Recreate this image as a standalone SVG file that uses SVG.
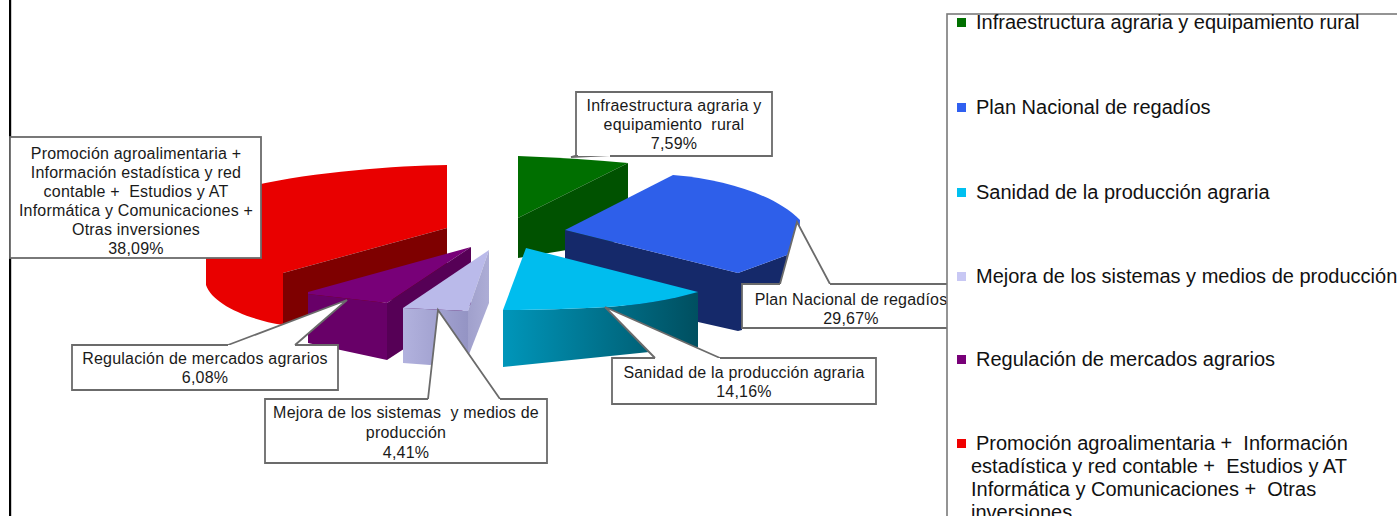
<svg xmlns="http://www.w3.org/2000/svg" width="1397" height="516" viewBox="0 0 1397 516">
<defs>
<linearGradient id="cyanFront" x1="0" y1="0" x2="1" y2="0">
<stop offset="0" stop-color="#0096ba"/>
<stop offset="1" stop-color="#004f60"/>
</linearGradient>
<linearGradient id="lavFront" x1="0" y1="0" x2="1" y2="0">
<stop offset="0" stop-color="#b2b2de"/>
<stop offset="1" stop-color="#9494c4"/>
</linearGradient>
<linearGradient id="lavSide" x1="0" y1="0" x2="1" y2="0">
<stop offset="0" stop-color="#a0a0cc"/>
<stop offset="1" stop-color="#adadd6"/>
</linearGradient>
</defs>
<style>
.lbl{font-family:"Liberation Sans",Arial,sans-serif;font-size:16px;letter-spacing:0.2px;fill:#1a1a1a;text-anchor:middle;white-space:pre}
.leg{font-family:"Liberation Sans",Arial,sans-serif;font-size:20px;fill:#111;white-space:pre}
.box{fill:#fff;stroke:#6b6b6b;stroke-width:1.8}
.ptr{fill:#fff;stroke:#6b6b6b;stroke-width:1.8;stroke-linejoin:miter}
</style>
<rect x="0" y="0" width="1397" height="516" fill="#fff"/>
<rect x="9" y="0" width="2.2" height="516" fill="#000"/>

<g id="slices">
<g id="slice-promocion">
<path d="M447,165 C380,166 262,176 206,200 L206,285 C212,303 245,319 283,325 L283,273 L447,228 Z" fill="#e90000"/>
<path d="M447,228 L283,273 L283,325 L308,323 L447,285 Z" fill="#7e0000"/>
</g>
<g id="slice-infraestructura">
<path d="M518,156 Q575,158 628,163 L518,218 Z" fill="#006f00"/>
<path d="M628,163 L628,240 L518,258 L518,218 Z" fill="#005200"/>
</g>
<g id="slice-plan">
<path d="M565,230 L738,273 L787,255 L785,284 L742,284 L742,330 L738,331 L565,292 Z" fill="#15296a"/>
<path d="M565,230 L673,175 C730,180 776,196 800,220 C800,234 795,248 787,255 L738,273 Z" fill="#2e5fea"/>
</g>
<g id="slice-regulacion">
<path d="M308,292 L471,247 L387,303 L308,294 Z" fill="#780078"/>
<path d="M308,294 L387,303 L387,360 L308,343 Z" fill="#680068"/>
<path d="M387,303 L471,247 L471,305 L387,360 Z" fill="#560056"/>
</g>
<g id="slice-mejora">
<path d="M403,308 L489,250 L468,311 Z" fill="#babaea"/>
<path d="M403,308 L468,311 L468,357 L430,365 L403,363 Z" fill="url(#lavFront)"/>
<path d="M468,311 L489,250 L489,303 L468,357 Z" fill="url(#lavSide)"/>
</g>
<g id="slice-sanidad">
<path d="M503,310 C530,310 570,309 607,307 C640,305 670,300 698,292 L698,347 L503,367 Z" fill="url(#cyanFront)"/>
<path d="M526,248 L698,292 C670,300 640,305 607,307 C570,309 530,310 503,310 Z" fill="#00bdee"/>
</g>
</g>

<g id="connectors">
<path class="ptr" d="M228,345 L347,300 L295,345"/>
<path class="ptr" d="M428,399 L438,310 L500,399"/>
<path class="ptr" d="M655,358 L605,307 L720,358"/>
<path class="ptr" d="M780,284 L797,222 L830,284"/>
<path class="ptr" d="M578,155 L571,157 L610,155"/>
</g>

<g id="label-promocion">
<rect class="box" x="10" y="137" width="251" height="121"/>
<text class="lbl" x="136" y="159">Promoción agroalimentaria +</text>
<text class="lbl" x="136" y="178">Información estadística y red</text>
<text class="lbl" x="136" y="197">contable +  Estudios y AT</text>
<text class="lbl" x="136" y="216">Informática y Comunicaciones +</text>
<text class="lbl" x="136" y="235">Otras inversiones</text>
<text class="lbl" x="136" y="254">38,09%</text>
</g>
<g id="label-infraestructura">
<path class="box" d="M610,156 L772,156 L772,92 L576,92 L576,156 L578,156"/>
<text class="lbl" x="674" y="111">Infraestructura agraria y</text>
<text class="lbl" x="674" y="130">equipamiento  rural</text>
<text class="lbl" x="674" y="149">7,59%</text>
</g>
<g id="label-plan">
<path class="box" d="M830,284 L960,284 L960,328 L742,328 L742,284 L780,284"/>
<text class="lbl" x="851" y="305">Plan Nacional de regadíos</text>
<text class="lbl" x="851" y="324">29,67%</text>
</g>
<g id="label-sanidad">
<path class="box" d="M720,358 L876,358 L876,404 L612,404 L612,358 L655,358"/>
<text class="lbl" x="744" y="378">Sanidad de la producción agraria</text>
<text class="lbl" x="744" y="397">14,16%</text>
</g>
<g id="label-regulacion">
<path class="box" d="M295,345 L338,345 L338,390 L72,390 L72,345 L228,345"/>
<text class="lbl" x="205" y="364">Regulación de mercados agrarios</text>
<text class="lbl" x="205" y="383">6,08%</text>
</g>
<g id="label-mejora">
<path class="box" d="M500,399 L547,399 L547,463 L265,463 L265,399 L428,399"/>
<text class="lbl" x="406" y="418">Mejora de los sistemas  y medios de</text>
<text class="lbl" x="406" y="438">producción</text>
<text class="lbl" x="406" y="458">4,41%</text>
</g>

<g id="legend">
<rect x="947" y="14" width="500" height="520" fill="#fff" stroke="#7a7a7a" stroke-width="1.6"/>
<rect x="957" y="18" width="9" height="9" fill="#007000"/>
<text class="leg" x="976" y="29">Infraestructura agraria y equipamiento rural</text>
<rect x="957" y="103" width="9" height="9" fill="#3060f0"/>
<text class="leg" x="976" y="114">Plan Nacional de regadíos</text>
<rect x="957" y="188" width="9" height="9" fill="#00c0f0"/>
<text class="leg" x="976" y="199">Sanidad de la producción agraria</text>
<rect x="957" y="272" width="9" height="9" fill="#c8c8f4"/>
<text class="leg" x="976" y="283">Mejora de los sistemas y medios de producción</text>
<rect x="957" y="355" width="9" height="9" fill="#780078"/>
<text class="leg" x="976" y="366">Regulación de mercados agrarios</text>
<rect x="957" y="439" width="9" height="9" fill="#f00000"/>
<text class="leg" x="976" y="450">Promoción agroalimentaria +  Información</text>
<text class="leg" x="971" y="473">estadística y red contable +  Estudios y AT</text>
<text class="leg" x="971" y="496">Informática y Comunicaciones +  Otras</text>
<text class="leg" x="971" y="519">inversiones</text>
</g>
</svg>
